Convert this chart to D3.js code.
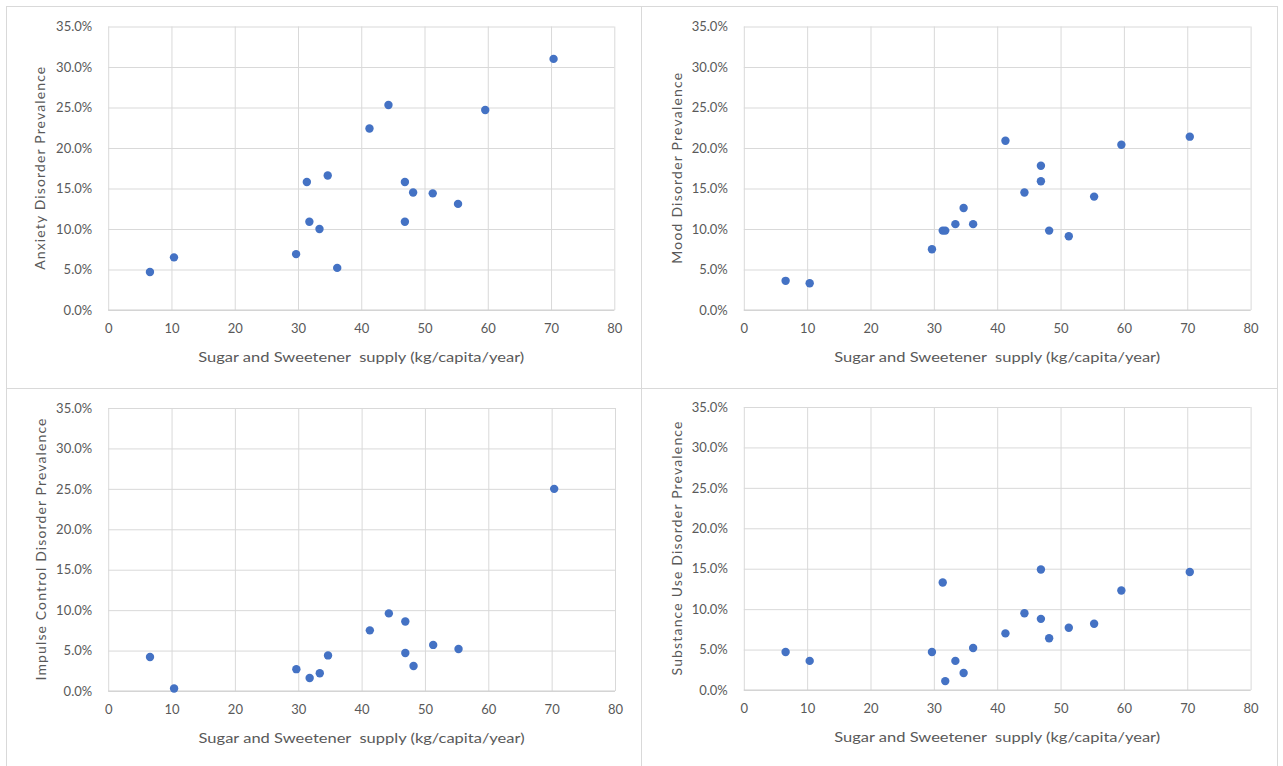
<!DOCTYPE html>
<html><head><meta charset="utf-8">
<script src="https://cdn.jsdelivr.net/npm/d3@7"></script>
<style>
html,body{margin:0;padding:0;background:#fff;}
svg{display:block;}
text{font-family:Lato,"Open Sans",sans-serif;fill:#595959;}
</style></head><body>
<svg id="chart" width="1283" height="766"></svg>
<script>
// ---- data ----
const supply    = [6.6, 10.4, 29.7, 31.4, 31.8, 33.4, 34.7, 36.2, 41.3, 44.3, 46.9, 46.9, 48.2, 51.3, 55.3, 59.6, 70.4];
const anxiety   = [4.7, 6.5, 6.9, 15.8, 10.9, 10.0, 16.6, 5.2, 22.4, 25.3, 15.8, 10.9, 14.5, 14.4, 13.1, 24.7, 31.0];
const mood      = [3.6, 3.3, 7.5, 9.8, 9.8, 10.6, 12.6, 10.6, 20.9, 14.5, 17.8, 15.9, 9.8, 9.1, 14.0, 20.4, 21.4];
const impulse   = [4.2, 0.3, 2.7, null, 1.6, 2.2, 4.4, null, 7.5, 9.6, 8.6, 4.7, 3.1, 5.7, 5.2, null, 25.0];
const substance = [4.7, 3.6, 4.7, 13.3, 1.1, 3.6, 2.1, 5.2, 7.0, 9.5, 14.9, 8.8, 6.4, 7.7, 8.2, 12.3, 14.6];
const xTicks = [0, 10, 20, 30, 40, 50, 60, 70, 80];
const yTicks = [0, 5, 10, 15, 20, 25, 30, 35];
const xTitle = "Sugar and Sweetener  supply (kg/capita/year)";
const yTitles = ["Anxiety Disorder Prevalence", "Mood Disorder Prevalence",
                 "Impulse Control Disorder Prevalence", "Substance Use Disorder Prevalence"];

// ---- layout ----
const panels = [
  {values: anxiety,   title: yTitles[0], x0: 108.2, x1: 614.3, y0: 26.5, y1: 310, yTitleX: 40,  yTitleLen: 203, xTitleY: 357},
  {values: mood,      title: yTitles[1], x0: 743.8, x1: 1250.6, y0: 26.5, y1: 310, yTitleX: 677, yTitleLen: 191, xTitleY: 357},
  {values: impulse,   title: yTitles[2], x0: 108.2, x1: 615,   y0: 408, y1: 691, yTitleX: 41,  yTitleLen: 262, xTitleY: 738},
  {values: substance, title: yTitles[3], x0: 743.8, x1: 1250.6, y0: 407, y1: 690, yTitleX: 677, yTitleLen: 254, xTitleY: 737}
];

const svg = d3.select("#chart");
const frame = "#d9d9d9";

// outer frame and dividers
svg.append("rect").attr("x", 6.5).attr("y", 6.5).attr("width", 1271).attr("height", 780)
  .attr("fill", "none").attr("stroke", frame);
svg.append("line").attr("x1", 641.5).attr("x2", 641.5).attr("y1", 6).attr("y2", 766).attr("stroke", frame);
svg.append("line").attr("x1", 6).attr("x2", 1278).attr("y1", 388.5).attr("y2", 388.5).attr("stroke", frame);

panels.forEach(p => {
  const x = d3.scaleLinear().domain([0, 80]).range([p.x0, p.x1]);
  const y = d3.scaleLinear().domain([0, 35]).range([p.y1, p.y0]);
  const g = svg.append("g");

  // gridlines
  g.append("g").attr("transform", `translate(0,${p.y1})`)
    .call(d3.axisBottom(x).tickValues(xTicks).tickSize(-(p.y1 - p.y0)).tickFormat(""))
    .call(s => s.select(".domain").remove())
    .call(s => s.selectAll("line").attr("stroke", "#d9d9d9"));
  g.append("g").attr("transform", `translate(${p.x0},0)`)
    .call(d3.axisLeft(y).tickValues(yTicks).tickSize(-(p.x1 - p.x0)).tickFormat(""))
    .call(s => s.select(".domain").remove())
    .call(s => s.selectAll("line").attr("stroke", "#d9d9d9"));
  // x axis line
  g.append("line").attr("x1", p.x0).attr("x2", p.x1).attr("y1", y(0)).attr("y2", y(0)).attr("stroke", "#cfcfcf");

  // tick labels
  g.append("g").attr("transform", `translate(0,${p.y1})`)
    .call(d3.axisBottom(x).tickValues(xTicks).tickSize(0).tickPadding(14).tickFormat(d3.format("d")))
    .call(s => s.select(".domain").remove())
    .call(s => s.selectAll("text").attr("font-size", 13).attr("fill", "#595959").attr("font-family", "Lato, 'Open Sans', sans-serif"));
  g.append("g").attr("transform", `translate(${p.x0},0)`)
    .call(d3.axisLeft(y).tickValues(yTicks).tickSize(0).tickPadding(16).tickFormat(d => d.toFixed(1) + "%"))
    .call(s => s.select(".domain").remove())
    .call(s => s.selectAll("text").attr("font-size", 13).attr("fill", "#595959").attr("font-family", "Lato, 'Open Sans', sans-serif"));

  // axis titles
  g.append("text").attr("x", (p.x0 + p.x1) / 2).attr("y", p.xTitleY).attr("dy", "0.35em")
    .attr("text-anchor", "middle").attr("font-size", 14).style("white-space", "pre")
    .attr("textLength", 326).attr("lengthAdjust", "spacingAndGlyphs").text(xTitle);
  g.append("text").attr("transform", `translate(${p.yTitleX},${(p.y0 + p.y1) / 2}) rotate(-90)`)
    .attr("dy", "0.35em").attr("text-anchor", "middle").attr("font-size", 14)
    .attr("textLength", p.yTitleLen).attr("lengthAdjust", "spacing").text(p.title);

  // points
  const pts = supply.map((s, i) => ({x: s, y: p.values[i]})).filter(d => d.y !== null);
  g.append("g").selectAll("circle").data(pts).join("circle")
    .attr("cx", d => x(d.x)).attr("cy", d => y(d.y)).attr("r", 4.2).attr("fill", "#4472C4");
});
</script>
</body></html>
